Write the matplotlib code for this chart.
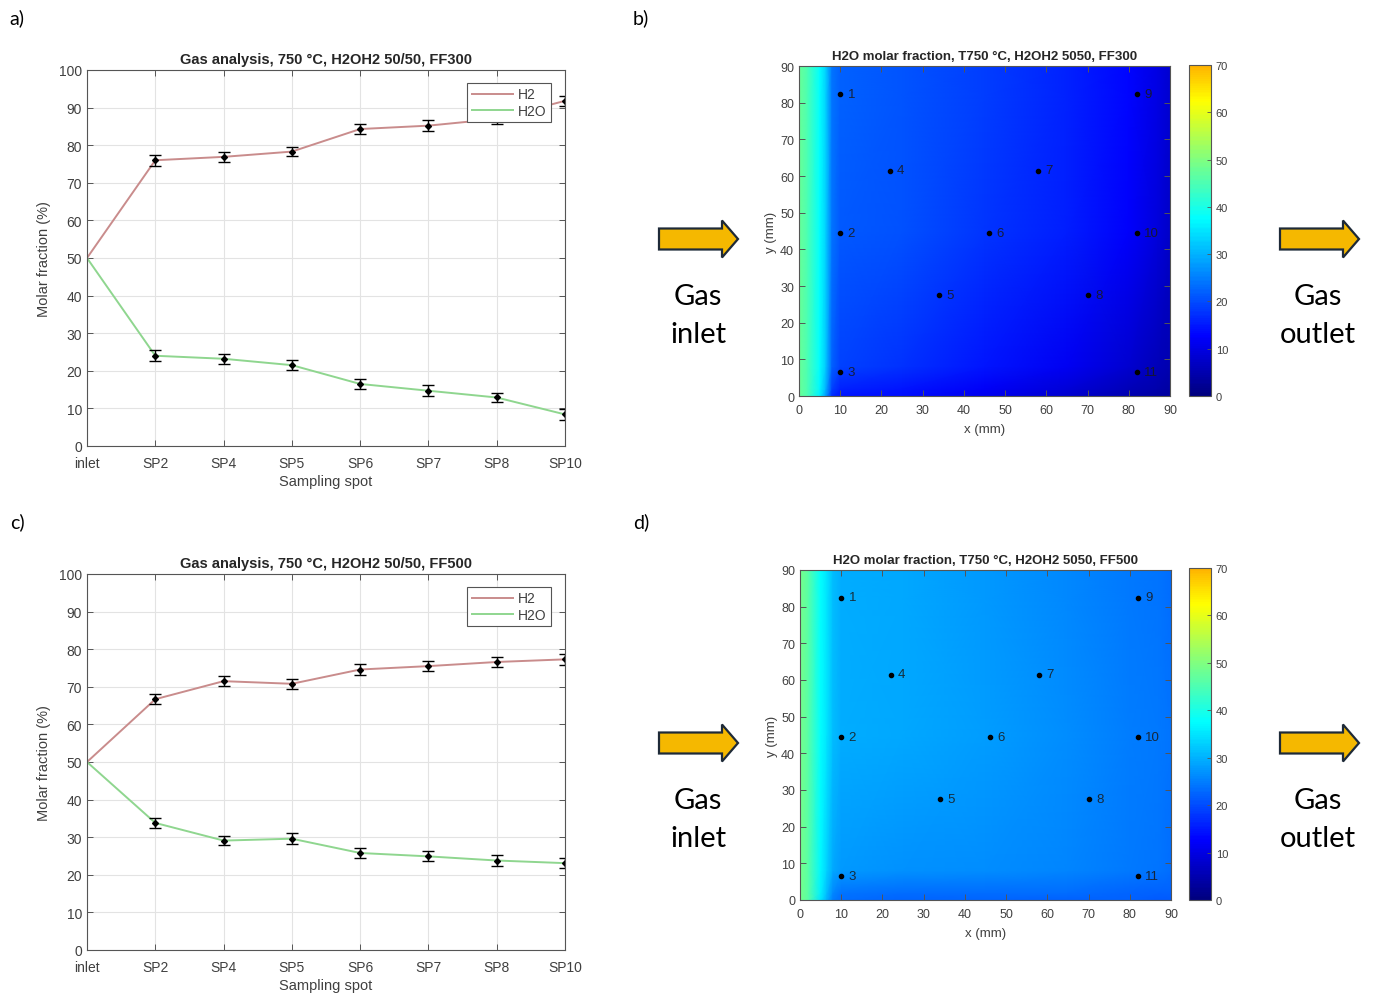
import numpy as np
import matplotlib
matplotlib.use("Agg")
import matplotlib.pyplot as plt
from matplotlib.colors import LinearSegmentedColormap, ListedColormap, Normalize
from matplotlib.patches import FancyArrow

plt.rcParams["font.family"] = ["Liberation Sans", "DejaVu Sans"]

# --- gas analysis along the cell ---
SPOTS = ["inlet", "SP2", "SP4", "SP5", "SP6", "SP7", "SP8", "SP10"]

H2_FF300 = [50.0, 76.0, 76.9, 78.3, 84.3, 85.2, 87.0, 91.8]
H2O_FF300 = [50.0, 24.0, 23.2, 21.5, 16.5, 14.7, 12.9, 8.4]
ERR_FF300 = [0.0, 1.4, 1.3, 1.3, 1.3, 1.4, 1.3, 1.4]

H2_FF500 = [50.0, 66.7, 71.5, 70.8, 74.6, 75.5, 76.6, 77.3]
H2O_FF500 = [50.0, 33.8, 29.1, 29.6, 25.8, 24.9, 23.8, 23.1]
ERR_FF500 = [0.0, 1.4, 1.3, 1.4, 1.4, 1.3, 1.4, 1.4]

# --- H2O molar fraction maps (values at grid nodes, mm) ---
MAP_X = [0, 2, 5, 6.5, 8, 10, 25, 45, 65, 80, 87, 90]
MAP_Y = [0, 2, 8, 45, 82, 90]

MAP_FF300 = [
    [48, 45, 36, 28, 17, 15, 14, 11, 8, 5, 4, 3.5],
    [48, 45, 37, 30, 19, 16, 15, 12, 9, 6, 4.5, 4],
    [48, 45, 38, 32, 22, 19, 17.5, 14.5, 11.5, 8, 6, 5],
    [48, 45, 38, 33, 24, 21.5, 20.5, 18, 15.5, 12.5, 9.5, 7.5],
    [48, 45, 38, 33, 24, 22, 21, 18.5, 16, 13, 10, 8],
    [48, 45, 38, 33, 24, 22, 21, 18.5, 16, 13, 10, 8],
]

MAP_FF500 = [
    [49, 46, 35, 30, 25, 23, 22.5, 22.5, 22, 22, 21.5, 21.5],
    [49, 46, 36, 31, 26, 24, 23.5, 23.5, 23, 22.5, 22, 22],
    [49, 46, 37, 33, 29, 27.5, 27, 26.5, 25.5, 24.5, 24, 23.5],
    [49, 46, 38, 35, 31, 29.5, 29, 28, 26.5, 25, 24.5, 24],
    [49, 46, 38, 35, 31, 29.5, 29, 27.5, 26, 24.5, 24, 23.5],
    [49, 46, 38, 35, 31, 29.5, 29, 27.5, 26, 24.5, 24, 23.5],
]

SP_ID = [1, 2, 3, 4, 5, 6, 7, 8, 9, 10, 11]
SP_X = [10, 10, 10, 22, 34, 46, 58, 70, 82, 82, 82]
SP_Y = [82.5, 44.5, 6.5, 61.5, 27.5, 44.5, 61.5, 27.5, 82.5, 44.5, 6.5]

TXT = "#404040"
AX_COL = "#555555"
H2_COLOR = "#c98c8c"
H2O_COLOR = "#8fd68f"
ARROW_FC = "#f5b800"
ARROW_EC = "#1e2a38"

W, H = 1375, 995

# MATLAB-style jet, cut at 0.7 so that the 0-70 scale ends on orange
_jet = LinearSegmentedColormap("mjet", {
    "red": [(0, 0, 0), (3 / 8, 0, 0), (5 / 8, 1, 1), (7 / 8, 1, 1), (1, 0.5, 0.5)],
    "green": [(0, 0, 0), (1 / 8, 0, 0), (3 / 8, 1, 1), (5 / 8, 1, 1), (7 / 8, 0, 0), (1, 0, 0)],
    "blue": [(0, 0.5, 0.5), (1 / 8, 1, 1), (3 / 8, 1, 1), (5 / 8, 0, 0), (1, 0, 0)],
})
CMAP = ListedColormap(_jet(np.linspace(0.0, 0.7, 256)))


def px_axes(fig, left, top, right, bottom):
    return fig.add_axes([left / W, 1 - bottom / H, (right - left) / W, (bottom - top) / H])


def style_box(ax, size, pad):
    ax.tick_params(direction="in", top=True, right=True, labelsize=size,
                   colors=AX_COL, labelcolor=TXT, length=4, width=0.7)
    ax.tick_params(axis="x", pad=pad)
    for sp in ax.spines.values():
        sp.set_color(AX_COL)
        sp.set_linewidth(0.8)


def plot_gas(ax, h2, h2o, err, title):
    x = np.arange(len(SPOTS))
    ax.plot(x, h2, color=H2_COLOR, lw=1.4, label="H2")
    ax.plot(x, h2o, color=H2O_COLOR, lw=1.4, label="H2O")
    for vals in (h2, h2o):
        ax.errorbar(x[1:], vals[1:], yerr=err[1:], fmt="D", ms=3, color="black",
                    ecolor="black", elinewidth=1.0, capsize=4, capthick=1.0)
    ax.set_xlim(0, len(SPOTS) - 1)
    ax.set_ylim(0, 100)
    ax.set_yticks(range(0, 101, 10))
    ax.set_xticks(x)
    ax.set_xticklabels(SPOTS)
    ax.grid(True, color="#e3e3e3", lw=0.8)
    ax.set_axisbelow(True)
    style_box(ax, 10, 7)
    ax.set_title(title, fontsize=10.5, fontweight="bold", color="#262626", pad=5)
    ax.set_xlabel("Sampling spot", fontsize=10.5, color=TXT, labelpad=3)
    ax.set_ylabel("Molar fraction (%)", fontsize=10.5, color=TXT, labelpad=6)
    leg = ax.legend(loc="upper right", fontsize=10, handlelength=3.0, borderpad=0.35,
                    labelspacing=0.15, handletextpad=0.3, fancybox=False,
                    framealpha=1, bbox_to_anchor=(0.985, 0.985))
    leg.get_frame().set_edgecolor("#555555")
    leg.get_frame().set_linewidth(0.8)
    for t in leg.get_texts():
        t.set_color(TXT)


def plot_map(ax, cax, field, title):
    xx, yy = np.meshgrid(MAP_X, MAP_Y)
    mesh = ax.pcolormesh(xx, yy, np.array(field, dtype=float), cmap=CMAP,
                         norm=Normalize(0, 70), shading="gouraud")
    ax.scatter(SP_X, SP_Y, s=9, color="black", zorder=3)
    for i, xs, ys in zip(SP_ID, SP_X, SP_Y):
        ax.text(xs + 1.8, ys, str(i), fontsize=9.5, color="#1a1a1a",
                va="center", ha="left", alpha=0.85)
    ax.set_xlim(0, 90)
    ax.set_ylim(0, 90)
    ax.set_xticks(range(0, 91, 10))
    ax.set_yticks(range(0, 91, 10))
    style_box(ax, 9, 6)
    ax.set_title(title, fontsize=9.5, fontweight="bold", color="#262626", pad=5)
    ax.set_xlabel("x (mm)", fontsize=9.5, color=TXT, labelpad=5)
    ax.set_ylabel("y (mm)", fontsize=9.5, color=TXT, labelpad=2)
    cb = plt.colorbar(mesh, cax=cax, ticks=range(0, 71, 10))
    cb.ax.tick_params(direction="in", labelsize=8, colors=AX_COL, labelcolor=TXT,
                      length=3, width=0.6)
    cb.outline.set_edgecolor(AX_COL)
    cb.outline.set_linewidth(0.8)


def draw_arrow(ov, x0, yc):
    ov.add_patch(FancyArrow(x0, yc, 79, 0, width=21, head_width=37, head_length=16,
                            length_includes_head=True, fc=ARROW_FC, ec=ARROW_EC, lw=1.6))


fig = plt.figure(figsize=(W / 100, H / 100), dpi=100)

ax_a = px_axes(fig, 87, 71, 565, 447)
plot_gas(ax_a, H2_FF300, H2O_FF300, ERR_FF300, "Gas analysis, 750 °C, H2OH2 50/50, FF300")

ax_c = px_axes(fig, 87, 575, 565, 951)
plot_gas(ax_c, H2_FF500, H2O_FF500, ERR_FF500, "Gas analysis, 750 °C, H2OH2 50/50, FF500")

ax_b = px_axes(fig, 799, 67, 1170, 397)
cax_b = px_axes(fig, 1189, 66, 1211, 397)
plot_map(ax_b, cax_b, MAP_FF300, "H2O molar fraction, T750 °C, H2OH2 5050, FF300")

ax_d = px_axes(fig, 800, 571, 1171, 901)
cax_d = px_axes(fig, 1189, 569, 1211, 901)
plot_map(ax_d, cax_d, MAP_FF500, "H2O molar fraction, T750 °C, H2OH2 5050, FF500")

# overlay in pixel units for arrows, flow labels and panel letters
ov = fig.add_axes([0, 0, 1, 1], zorder=10)
ov.set_xlim(0, W)
ov.set_ylim(H, 0)
ov.axis("off")
ov.patch.set_alpha(0)

flow_font = ["Lato", "DejaVu Sans"]
for yc in (240, 744):
    draw_arrow(ov, 659, yc)
    draw_arrow(ov, 1280, yc)
    ov.text(698, yc + 57, "Gas", fontsize=21, family=flow_font, ha="center", va="center")
    ov.text(698, yc + 95, "inlet", fontsize=21, family=flow_font, ha="center", va="center")
    ov.text(1318, yc + 57, "Gas", fontsize=21, family=flow_font, ha="center", va="center")
    ov.text(1318, yc + 95, "outlet", fontsize=21, family=flow_font, ha="center", va="center")

for lbl, x, y in (("a)", 17, 18), ("b)", 641, 18), ("c)", 17, 522), ("d)", 641, 522)):
    ov.text(x, y, lbl, fontsize=14, family=flow_font, ha="center", va="center")

fig.savefig("out.png", dpi=100)
